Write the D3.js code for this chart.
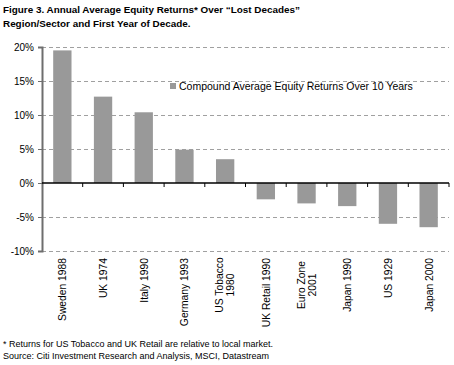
<!DOCTYPE html>
<html><head><meta charset="utf-8">
<script src="https://cdn.jsdelivr.net/npm/d3@7"></script>
<style>body{margin:0;background:#fff}svg{display:block;font-family:"Liberation Sans",Arial,sans-serif}</style>
</head><body>
<script>
const categories = [["Sweden 1988"],["UK 1974"],["Italy 1990"],["Germany 1993"],["US Tobacco","1980"],["UK Retail 1990"],["Euro Zone","2001"],["Japan 1990"],["US 1929"],["Japan 2000"]];
const values = [19.5, 12.7, 10.4, 4.9, 3.5, -2.4, -3.0, -3.4, -6.0, -6.5];
const yTicks = [-10, -5, 0, 5, 10, 15, 20];
const seriesName = "Compound Average Equity Returns Over 10 Years";
const titleLines = ["Figure 3. Annual Average Equity Returns* Over \u201cLost Decades\u201d", "Region/Sector and First Year of Decade."];
const footLines = ["* Returns for US Tobacco and UK Retail are relative to local market.", "Source: Citi Investment Research and Analysis, MSCI, Datastream"];

(function(){
const W = 454, H = 365;
const svg = d3.select("body").append("svg").attr("width", W).attr("height", H);
const pL = 42, pR = 449, pT = 47, pB = 251;
const x = d3.scaleBand().domain(categories.map((c,i)=>i)).range([pL, pR]).paddingInner(0.55).paddingOuter(0.275);
const xb = d3.scaleBand().domain(categories.map((c,i)=>i)).range([pL, pR]);
const y = d3.scaleLinear().domain([-10, 20]).range([pB, pT]);

svg.append("g").selectAll("text").data(titleLines).join("text")
  .attr("x", 3).attr("y", (d,i)=>13 + i*14).attr("font-size", 9.9).attr("font-weight", "bold").attr("fill", "#000").text(d=>d);

svg.append("g").selectAll("line").data(yTicks.filter(t=>t!==0)).join("line")
  .attr("x1", pL).attr("x2", pR).attr("y1", d=>y(d)+0.5).attr("y2", d=>y(d)+0.5)
  .attr("stroke", "#a0a0a0").attr("stroke-dasharray", "4,3").attr("stroke-width", 1);

svg.append("g").selectAll("rect").data(values).join("rect")
  .attr("x", (d,i)=>x(i)).attr("width", x.bandwidth())
  .attr("y", d=>y(Math.max(0,d))).attr("height", d=>Math.abs(y(d)-y(0)))
  .attr("fill", "#999999");

const ya = svg.append("g").attr("transform", `translate(${pL},0)`)
  .call(d3.axisLeft(y).tickValues(yTicks).tickFormat(d=>d+"%").tickSize(4));
ya.select(".domain").attr("stroke", "#6e6e6e").attr("stroke-width", 2);
ya.selectAll(".tick line").attr("stroke", "#6e6e6e");
ya.selectAll("text").attr("font-size", 10).attr("fill", "#000").attr("font-family", "Liberation Sans, Arial, sans-serif").attr("x", -8);

svg.append("line").attr("x1", pL).attr("x2", pR).attr("y1", y(0)).attr("y2", y(0)).attr("stroke", "#000").attr("stroke-width", 1.5);
svg.append("g").selectAll("line").data(d3.range(1, categories.length+1)).join("line")
  .attr("x1", d=>pL + d*xb.bandwidth()).attr("x2", d=>pL + d*xb.bandwidth())
  .attr("y1", y(0)).attr("y2", y(0)+4).attr("stroke", "#000");

const lab = svg.append("g").selectAll("text").data(categories).join("text")
  .attr("transform", (d,i)=>{
    const cx = xb(i) + xb.bandwidth()/2;
    return `translate(${cx + (d.length>1 ? -2 : 4)},${d.length>1 ? 285 : 258}) rotate(-90)`;
  })
  .attr("text-anchor", d=>d.length>1 ? "middle" : "end")
  .attr("font-size", 10.3).attr("fill", "#000");
lab.selectAll("tspan").data(d=>d).join("tspan").attr("x", 0).attr("dy", (d,i)=>i===0?0:11).text(d=>d);

svg.append("rect").attr("x", 170).attr("y", 83).attr("width", 6).attr("height", 6).attr("fill", "#999999");
svg.append("text").attr("x", 179).attr("y", 90).attr("font-size", 10.5).attr("fill", "#000").text(seriesName);

svg.append("g").selectAll("text").data(footLines).join("text")
  .attr("x", 3).attr("y", (d,i)=>347 + i*12).attr("font-size", 9).attr("fill", "#000").text(d=>d);
})();
</script>
</body></html>
